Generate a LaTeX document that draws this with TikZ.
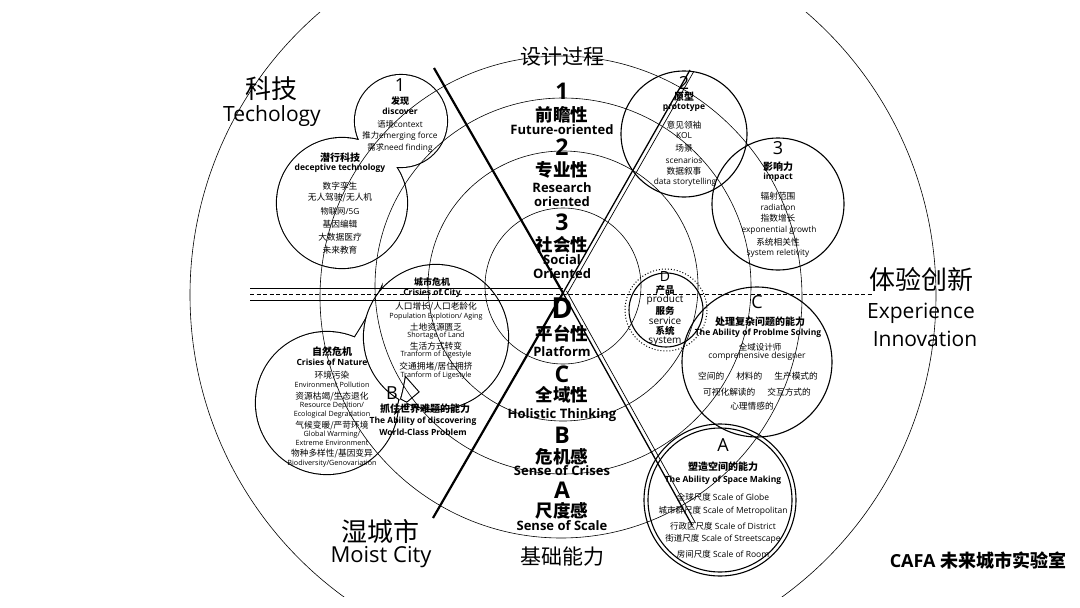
\documentclass[tikz,border=0pt]{standalone}
\usepackage{fontspec}
\setmainfont{Open Sans}
\newfontfamily\zh{Noto Sans CJK SC}
\newcommand\z[1]{{\zh #1}}
\newcommand\fs[1]{\fontsize{#1}{#1}\selectfont}
\tikzset{
 ringline/.style={line width=0.6pt},
 heavyline/.style={line width=2.2pt},
 bubble/.style={line width=2.2pt},
 smallc/.style={line width=1.1pt},
 lbl/.style={inner sep=0pt, align=center},
 dig/.style={lbl, font=\fs{23}\bfseries},
 digD/.style={lbl, font=\fs{29}\bfseries},
 zhh/.style={lbl, font=\fs{17.5}\zh\bfseries},
 enh/.style={lbl, font=\fs{13}\bfseries},
 bigtxt/.style={lbl, font=\fs{21}},
 zhcap/.style={lbl, font=\fs{26}\zh},
 zhmid/.style={lbl, font=\fs{21}\zh},
 numtxt/.style={lbl, font=\fs{18}},
 sb/.style={lbl, font=\fs{8.5}\bfseries},
 sbz/.style={lbl, font=\fs{10}\zh\bfseries},
 st8/.style={lbl, font=\fs{8.3}},
 sa/.style={lbl, font=\fs{8.5}},
 sz/.style={lbl, font=\fs{8.7}\zh},
 st/.style={lbl, font=\fs{7.2}},
 sd/.style={lbl, font=\fs{10}},
}
\begin{document}
\begin{tikzpicture}[x=1pt,y=-1pt]
\useasboundingbox (0,0) rectangle (1080,608);
\fill[white] (0,0) rectangle (1080,608);

% ---- bubble groups (union outlines) ----
\draw[bubble] (401,121) circle (46) (342,203) circle (65);
\fill[white] (401,121) circle (46) (342,203) circle (65);
\draw[bubble] (327,403) circle (71)
  (350,345) .. controls (366,320) .. (381,289) .. controls (377,322) .. (378,365) -- cycle;
\fill[white] (327,403) circle (71)
  (350,345) .. controls (366,320) .. (381,289) .. controls (377,322) .. (378,365) -- cycle;
\draw[bubble] (436,337) circle (72)
  (405,375) .. controls (402,392) .. (396,412) .. controls (408,402) .. (420,392) -- cycle;
\fill[white] (436,337) circle (72)
  (405,375) .. controls (402,392) .. (396,412) .. controls (408,402) .. (420,392) -- cycle;

% ---- outer circle and rings ----
\coordinate (O) at (563,295);
\coordinate (Oi) at (563,286);
\coordinate (Oo) at (561,297);
\begin{scope}
\clip (0,12) rectangle (1080,596);
\draw[ringline] (O) circle (373);
\end{scope}
\draw[ringline] (Oo) circle (241);
\draw[ringline] (Oi) circle (188) (Oi) circle (135) (Oi) circle (78);

% ---- other small circles ----
\draw[smallc] (684,134) circle (63);
\draw[smallc] (778,204) circle (66);
\draw[smallc] (757,362) circle (75);
\draw[smallc] (666,310) circle (37);
\draw[line width=1pt, dotted] (666,310) circle (41);
\draw[smallc] (720,500) circle (76) (720,500) circle (72);

% ---- horizontal lines ----
\coordinate (hL1) at (250,288); \coordinate (hR1) at (563,288);
\coordinate (hL2) at (250,300); \coordinate (hR2) at (563,300);
\coordinate (hL3) at (250,294); \coordinate (hR3) at (873,294);
\draw[line width=1pt] (hL1) -- (hR1) (hL2) -- (hR2);
\draw[line width=1pt, dash pattern=on 4pt off 2.5pt] (hL3) -- (hR3);

% ---- diagonal lines ----
\coordinate (X) at (563,293);
\coordinate (UL) at (434,68);
\coordinate (LL) at (433,518);
\coordinate (UR) at (690,70);
\coordinate (LR) at (692,525);
\draw[heavyline] (UL) -- (X) -- (LL);
\draw[line width=1.3pt] (X) -- (UR) (X) -- (LR);
\draw[line width=0.7pt] ([shift={(3.5,2)}]X) -- ([shift={(3.5,2)}]UR);
\draw[line width=0.7pt] ([shift={(3.5,-2)}]X) -- ([shift={(3.5,-2)}]LR);

% ---- big labels ----
\node[zhcap] (keji) at (271,89) {科技};
\node[bigtxt] (tech) at (272,116) {Techology};
\node[zhcap] (shi) at (380,532) {湿城市};
\node[bigtxt,font=\fs{22}] (moist) at (381,557) {Moist City};
\node[zhmid] (sheji) at (562,57) {设计过程};
\node[zhmid] (jichu) at (562,557) {基础能力};
\node[zhcap] (tiyan) at (921,279) {体验创新};
\node[bigtxt] (exp) at (921,313) {Experience};
\node[bigtxt] (inno) at (925,339) {Innovation};
\node[lbl, font=\fs{18}\bfseries] (cafa) at (978,561) {CAFA \z{未来城市实验室}};

% ---- center column ----
\node[dig] (d1) at (562,91) {1};
\node[zhh] (t1) at (562,115) {\z{前瞻性}};
\node[enh] (e1) at (562,130) {Future-oriented};
\node[dig] (d2) at (562,147) {2};
\node[zhh] (t2) at (562,170) {\z{专业性}};
\node[enh] (e2a) at (562,188) {Research};
\node[enh] (e2b) at (562,202) {oriented};
\node[dig] (d3) at (562,222) {3};
\node[zhh] (t3) at (562,245) {\z{社会性}};
\node[enh] (e3a) at (562,260) {Social};
\node[enh] (e3b) at (562,274) {Oriented};
\node[digD] (dD) at (562,308) {D};
\node[zhh] (tD) at (562,334) {\z{平台性}};
\node[enh] (eD) at (562,352) {Platform};
\node[dig] (dC) at (562,374) {C};
\node[zhh] (tC) at (562,395) {\z{全域性}};
\node[enh] (eC) at (562,415) {Holistic Thinking};
\node[dig] (dB) at (562,435) {B};
\node[zhh] (tB) at (562,457) {\z{危机感}};
\node[enh] (eB) at (562,471) {Sense of Crises};
\node[dig] (dA) at (562,490) {A};
\node[zhh] (tA) at (562,511) {\z{尺度感}};
\node[enh] (eA) at (562,526) {Sense of Scale};

% ---- circle 1 ----
\node[numtxt] (c1n) at (400,85) {1};
\node[sbz,font=\fs{9}\zh\bfseries] (c1a) at (400,101) {发现};
\node[sb] (c1b) at (400,111) {discover};
\node[st8] (c1c) at (400,124) {\z{语境}context};
\node[st8] (c1d) at (400,136) {\z{推力}emerging force};
\node[st8] (c1e) at (400,148) {\z{需求}need finding};

% ---- deceptive technology ----
\node[sbz] (k0) at (340,158) {潜行科技};
\node[sb] (k1) at (340,168) {deceptive technology};
\node[sz] (k2) at (340,186) {数字孪生};
\node[sz] (k3) at (340,198) {无人驾驶/无人机};
\node[st8] (k4) at (340,211) {\z{物联网}/5G};
\node[sz] (k5) at (340,224) {基因编辑};
\node[sz] (k6) at (340,237) {大数据医疗};
\node[sz] (k7) at (340,250) {未来教育};

% ---- circle 2 ----
\node[numtxt] (c2n) at (684,83) {2};
\node[sbz] (c2a) at (684,97) {原型};
\node[sb] (c2b) at (684,108) {prototype};
\node[sz] (c2c) at (684,125) {意见领袖};
\node[st8] (c2d) at (684,136) {KOL};
\node[sz] (c2e) at (684,148) {场景};
\node[st8] (c2f) at (684,160) {scenarios};
\node[sz] (c2g) at (684,171) {数据叙事};
\node[st8] (c2h) at (685,182) {data storytelling};

% ---- circle 3 ----
\node[numtxt] (c3n) at (778,148) {3};
\node[sbz] (c3a) at (778,167) {影响力};
\node[sb] (c3b) at (778,177) {impact};
\node[sz] (c3c) at (778,196) {辐射范围};
\node[st8] (c3d) at (778,207) {radiation};
\node[sz] (c3e) at (778,218) {指数增长};
\node[st8] (c3f) at (779,230) {exponential growth};
\node[sz] (c3g) at (778,242) {系统相关性};
\node[st8] (c3h) at (778,253) {system reletivity};

% ---- circle D ----
\node[lbl,font=\fs{14}] (cDn) at (665,276) {D};
\node[lbl,font=\fs{9.5}\zh\bfseries] (cDa) at (665,290) {产品};
\node[sd] (cDb) at (665,300) {product};
\node[lbl,font=\fs{9.5}\zh\bfseries] (cDc) at (665,311) {服务};
\node[sd] (cDd) at (665,321) {service};
\node[lbl,font=\fs{9.5}\zh\bfseries] (cDe) at (665,331) {系统};
\node[sd] (cDf) at (665,341) {system};

% ---- circle C ----
\node[numtxt] (cCn) at (757,302) {C};
\node[sbz] (cCa) at (760,322) {处理复杂问题的能力};
\node[sb] (cCb) at (758,333) {The Ability of Problme Solving};
\node[sz,font=\fs{8.5}\zh] (cCc) at (760,347) {全域设计师};
\node[sa] (cCd) at (757,356) {comprehensive designer};
\node[sz] (cCe) at (758,376) {空间的\hspace{12pt}材料的\hspace{12pt}生产模式的};
\node[sz] (cCf) at (757,392) {可视化解读的\hspace{12pt}交互方式的};
\node[sz] (cCg) at (752,406) {心理情感的};

% ---- circle A ----
\node[numtxt] (cAn) at (723,445) {A};
\node[sbz] (cAa) at (723,467) {塑造空间的能力};
\node[sb] (cAb) at (723,480) {The Ability of Space Making};
\node[sa] (cAc) at (723,497) {\z{全球尺度} Scale of Globe};
\node[sa] (cAd) at (723,511) {\z{城市群尺度} Scale of Metropolitan};
\node[sa] (cAe) at (723,526) {\z{行政区尺度} Scale of District};
\node[sa] (cAf) at (723,539) {\z{街道尺度} Scale of Streetscape};
\node[sa] (cAg) at (723,554) {\z{房间尺度} Scale of Room};

% ---- city crisis ----
\node[sbz,font=\fs{9}\zh\bfseries] (ct0) at (432,282) {城市危机};
\node[sb] (ct1) at (432,293) {Crisies of City};
\node[sz] (ct2) at (436,307) {人口增长/人口老龄化};
\node[st] (ct3) at (436,317) {Population Explotion/ Aging};
\node[sz] (ct4) at (436,327) {土地资源匮乏};
\node[st] (ct5) at (436,336) {Shortage of Land};
\node[sz] (ct6) at (436,346) {生活方式转变};
\node[st] (ct7) at (436,355) {Tranform of Ligestyle};
\node[sz] (ct8) at (436,367) {交通拥堵/居住拥挤};
\node[st] (ct9) at (436,376) {Tranform of Ligestyle};

% ---- nature crisis ----
\node[sbz] (nt0) at (332,352) {自然危机};
\node[sb] (nt1) at (332,362) {Crisies of Nature};
\node[sz] (nt2) at (332,375) {环境污染};
\node[st] (nt3) at (332,385) {Environment Pollution};
\node[sz] (nt4) at (332,397) {资源枯竭/生态退化};
\node[st] (nt5) at (332,406) {Resource Depltion/};
\node[st] (nt6) at (332,415) {Ecological Degradation};
\node[sz] (nt7) at (332,426) {气候变暖/严苛环境};
\node[st] (nt8) at (332,435) {Global Warming/};
\node[st] (nt9) at (332,443) {Extreme Environment};
\node[sz] (nt10) at (332,454) {物种多样性/基因变异};
\node[st] (nt11) at (332,464) {Biodiversity/Genovariation};

% ---- B ----
\node[numtxt] (bn) at (392,393) {B};
\node[sbz] (b1) at (425,409) {抓住世界难题的能力};
\node[sb] (b2) at (423,421) {The Ability of discovering};
\node[sb] (b3) at (423,432) {World-Class Problem};
\end{tikzpicture}
\end{document}
